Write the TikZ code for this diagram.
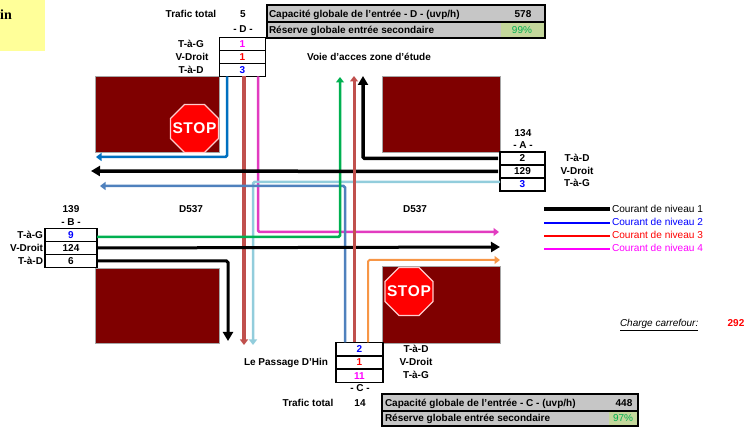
\documentclass[tikz,border=0pt]{standalone}
\usepackage{fontspec}
\setmainfont{Liberation Sans}
\newfontfamily\serifb{Liberation Serif}
\usetikzlibrary{arrows.meta,shapes.geometric}
\definecolor{blockred}{HTML}{7F0000}
\definecolor{padyellow}{HTML}{FFFF99}
\definecolor{tblgray}{HTML}{C6C6C6}
\definecolor{resgreen}{HTML}{C4D79B}
\definecolor{txtgreen}{HTML}{00B050}
\definecolor{cblue}{HTML}{0070C0}
\definecolor{csteel}{HTML}{4F81BD}
\definecolor{cred}{HTML}{C0504D}
\definecolor{cmag}{HTML}{E23BC0}
\definecolor{csky}{HTML}{92CDDC}
\definecolor{corange}{HTML}{F79646}
\definecolor{nblue}{HTML}{0000FF}
\definecolor{nred}{HTML}{FF0000}
\definecolor{nmag}{HTML}{FF00FF}
\tikzset{
  lbl/.style={inner sep=0,outer sep=0,anchor=base,yshift=-3.5pt,font=\fontsize{10}{12}\selectfont\bfseries},
  lbll/.style={lbl,anchor=base west},
  lblr/.style={lbl,anchor=base east},
  lgd/.style={lbl,anchor=base west,font=\fontsize{10.1}{12}\selectfont},
  block/.style={fill=blockred,draw=gray!70,line width=.5pt,anchor=north west,inner sep=0,outer sep=0},
  cell/.style={draw=black,line width=1.8pt,fill=white,anchor=north west,inner sep=0,outer sep=0,
    text height=7pt,text depth=0pt,font=\fontsize{10}{12}\selectfont\bfseries},
  grayrow/.style={draw=black,line width=2pt,fill=tblgray,anchor=north west,inner sep=0,outer sep=0},
  gval/.style={fill=resgreen,anchor=north west,inner sep=0,outer sep=0,text height=7pt,text depth=0pt,
    text=txtgreen,font=\fontsize{10}{12}\selectfont},
  stopsign/.style={regular polygon,regular polygon sides=8,minimum size=52pt,inner sep=0,outer sep=0,
    fill=red,draw=white!80!red,line width=1.2pt},
  stoptext/.style={inner sep=0,outer sep=0,text=white,font=\fontsize{15.5}{18}\selectfont\bfseries},
  flow/.style={line width=#1,rounded corners=1.5pt},
  tipS/.style={-{Triangle[width=8pt,length=5.5pt]}},
  tipB/.style={-{Triangle[width=10pt,length=9pt]}},
  lgline/.style={line width=#1}
}
\begin{document}
\begin{tikzpicture}[x=1pt,y=-1pt]
\useasboundingbox (0,0) rectangle (744,427);
% yellow note
\node[fill=padyellow,anchor=north west,inner sep=0,outer sep=0,minimum width=45pt,minimum height=51pt] (note) at (0,0) {};
\node[inner sep=0,anchor=base west,font=\fontsize{14}{16}\selectfont\serifb\bfseries] (notetxt) at (0,20) {in};
% blocks
\node[block,minimum width=124pt,minimum height=76pt] (nw) at (95,76) {};
\node[block,minimum width=118pt,minimum height=76pt] (ne) at (382,76) {};
\node[block,minimum width=124pt,minimum height=75pt] (sw) at (95,268) {};
\node[block,minimum width=118pt,minimum height=77pt] (se) at (382,266) {};
% stops
\node[stopsign] (stop1) at (194.5,128.5) {};
\node[stoptext] (stop1t) at (stop1.center) {S\kern.5pt T\kern.5pt O\kern.5pt P};
\node[stopsign] (stop2) at (409,291.5) {};
\node[stoptext] (stop2t) at (stop2.center) {S\kern.5pt T\kern.5pt O\kern.5pt P};
% top table D
\node[grayrow,minimum width=278pt,minimum height=17pt] (dcap) at (266.5,5) {};
\node[grayrow,minimum width=278pt,minimum height=16pt] (dres) at (266.5,22) {};
\node[gval,minimum width=43pt,minimum height=14pt] (dresv) at (500.5,23) {99\%};
\node[lbll] (dcapt) at (269,14) {Capacité globale de l'entrée - D - (uvp/h)};
\node[lbll] (drest) at (269,30) {Réserve globale entrée secondaire};
\node[lbl] (dcapv) at (523,14) {578};
% bottom table C
\node[grayrow,minimum width=256pt,minimum height=16.5pt] (ccap) at (382,394) {};
\node[grayrow,minimum width=256pt,minimum height=15.5pt] (cres) at (382,410.5) {};
\node[gval,minimum width=28pt,minimum height=13.5pt] (cresv) at (609,411.5) {97\%};
\node[lbll] (ccapt) at (385,403) {Capacité globale de l'entrée - C - (uvp/h)};
\node[lbll] (crest) at (385,418) {Réserve globale entrée secondaire};
\node[lbl] (ccapv) at (624,403) {448};
% entry D
\node[cell,minimum width=46pt,minimum height=13pt,text=nmag] (d1) at (219.5,37.5) {1};
\node[cell,minimum width=46pt,minimum height=13pt,text=nred] (d2) at (219.5,50.5) {1};
\node[cell,minimum width=46pt,minimum height=13pt,text=nblue] (d3) at (219.5,63.5) {3};
\node[lbl] at (191,14) (dt) {Trafic total};
\node[lbl] at (243,14) (dtv) {5};
\node[lbl] at (243,29) (dn) {- D -};
\node[lbl] at (191,44) (dl1) {T-à-G};
\node[lbl] at (192,57) (dl2) {V-Droit};
\node[lbl] at (191,70) (dl3) {T-à-D};
% entry A
\node[cell,minimum width=45pt,minimum height=13pt] (a1) at (500,152) {2};
\node[cell,minimum width=45pt,minimum height=13pt] (a2) at (500,165) {129};
\node[cell,minimum width=45pt,minimum height=13pt,text=nblue] (a3) at (500,178) {3};
\node[lbl] at (523,133) (at) {134};
\node[lbl] at (523,145) (an) {- A -};
\node[lbl] at (577,158) (al1) {T-à-D};
\node[lbl] at (577,171) (al2) {V-Droit};
\node[lbl] at (577,183) (al3) {T-à-G};
% entry B
\node[cell,minimum width=52pt,minimum height=13pt,text=nblue] (b1) at (45,228.5) {9};
\node[cell,minimum width=52pt,minimum height=13pt] (b2) at (45,241.5) {124};
\node[cell,minimum width=52pt,minimum height=13pt] (b3) at (45,254.5) {6};
\node[lbl] at (71,209) (bt) {139};
\node[lbl] at (71,222) (bn) {- B -};
\node[lblr] at (43,235) (bl1) {T-à-G};
\node[lblr] at (43,248) (bl2) {V-Droit};
\node[lblr] at (43,261) (bl3) {T-à-D};
% entry C
\node[cell,minimum width=47pt,minimum height=13.3pt,text=nblue] (c1) at (336,342.5) {2};
\node[cell,minimum width=47pt,minimum height=13.3pt,text=nred] (c2) at (336,355.8) {1};
\node[cell,minimum width=47pt,minimum height=13.3pt,text=nmag] (c3) at (336,369.1) {11};
\node[lbl] at (416,349) (cl1) {T-à-D};
\node[lbl] at (416,362) (cl2) {V-Droit};
\node[lbl] at (416,375) (cl3) {T-à-G};
\node[lbl] at (360,388) (cn) {- C -};
\node[lbl] at (308,403) (ct) {Trafic total};
\node[lbl] at (360,403) (ctv) {14};
\node[lbl] at (286,362) (pass) {Le Passage D'Hin};
% other labels
\node[lbl] at (369,57) (voie) {Voie d'acces zone d'étude};
\node[lbl] at (191,209) (d537a) {D537};
\node[lbl] at (415,209) (d537b) {D537};
% free ends of connectors
\coordinate (e1) at (96,157);
\coordinate (e2) at (244,345);
\coordinate (e3) at (499,232);
\coordinate (e4) at (91,171);
\coordinate (e5) at (363,76);
\coordinate (e6) at (253,345);
\coordinate (e7) at (100,186);
\coordinate (e8) at (340,77);
\coordinate (e9) at (354,76);
\coordinate (e10) at (500,260);
\coordinate (e11) at (500,247);
\coordinate (e12) at (228,341);
% connectors
\draw[cred,flow=3.5pt,tipS] (d3.south -| 244,77) -- (e2);
\draw[cmag,flow=2.5pt,tipS] (d3.south -| 258,77) |- (e3);
\draw[cblue,flow=2.5pt,tipS] (d3.south -| 227,77) |- (e1);
\draw[csky,flow=2.5pt,tipS] ([yshift=2.5pt]a3.west) -| (e6);
\draw[csteel,flow=2.5pt,tipS] (c1.north -| 345,342) |- (e7);
\draw[txtgreen,flow=2.5pt,tipS] ([yshift=-2pt]b1.east) -| (e8);
\draw[black,flow=3pt,tipB] (b2.east) -- (e11);
\draw[black,flow=3pt,tipB] (b3.east) -| (e12);
\draw[black,flow=3.5pt,tipB,shorten <=2pt] (a2.west) -- (e4);
\draw[black,flow=3.5pt,tipB,shorten <=2pt] (a1.west) -| (e5);
\draw[cred,flow=3pt,tipS] (c1.north -| 354,342) -- (e9);
\draw[corange,flow=2pt,tipS] (c1.north -| 368,342) |- (e10);
% legend
\coordinate (l1a) at (544,209); \coordinate (l1b) at (610,209);
\coordinate (l2a) at (544,223); \coordinate (l2b) at (610,223);
\coordinate (l3a) at (544,236); \coordinate (l3b) at (610,236);
\coordinate (l4a) at (544,249); \coordinate (l4b) at (610,249);
\draw[lgline=4pt,black] (l1a) -- (l1b);
\draw[lgline=2.5pt,nblue] (l2a) -- (l2b);
\draw[lgline=1.5pt,nred] (l3a) -- (l3b);
\draw[lgline=1.5pt,nmag] (l4a) -- (l4b);
\node[lgd] at (612,209) (t1) {Courant de niveau 1};
\node[lgd,text=nblue] at (612,222) (t2) {Courant de niveau 2};
\node[lgd,text=nred] at (612,235) (t3) {Courant de niveau 3};
\node[lgd,text=nmag] at (612,248) (t4) {Courant de niveau 4};
% charge
\node[lgd,font=\fontsize{10}{12}\selectfont\itshape] at (620,323) (chg) {\underline{Charge carrefour:}};
\node[lbl,text=nred] at (736,323) (chgv) {292};
\end{tikzpicture}
\end{document}
